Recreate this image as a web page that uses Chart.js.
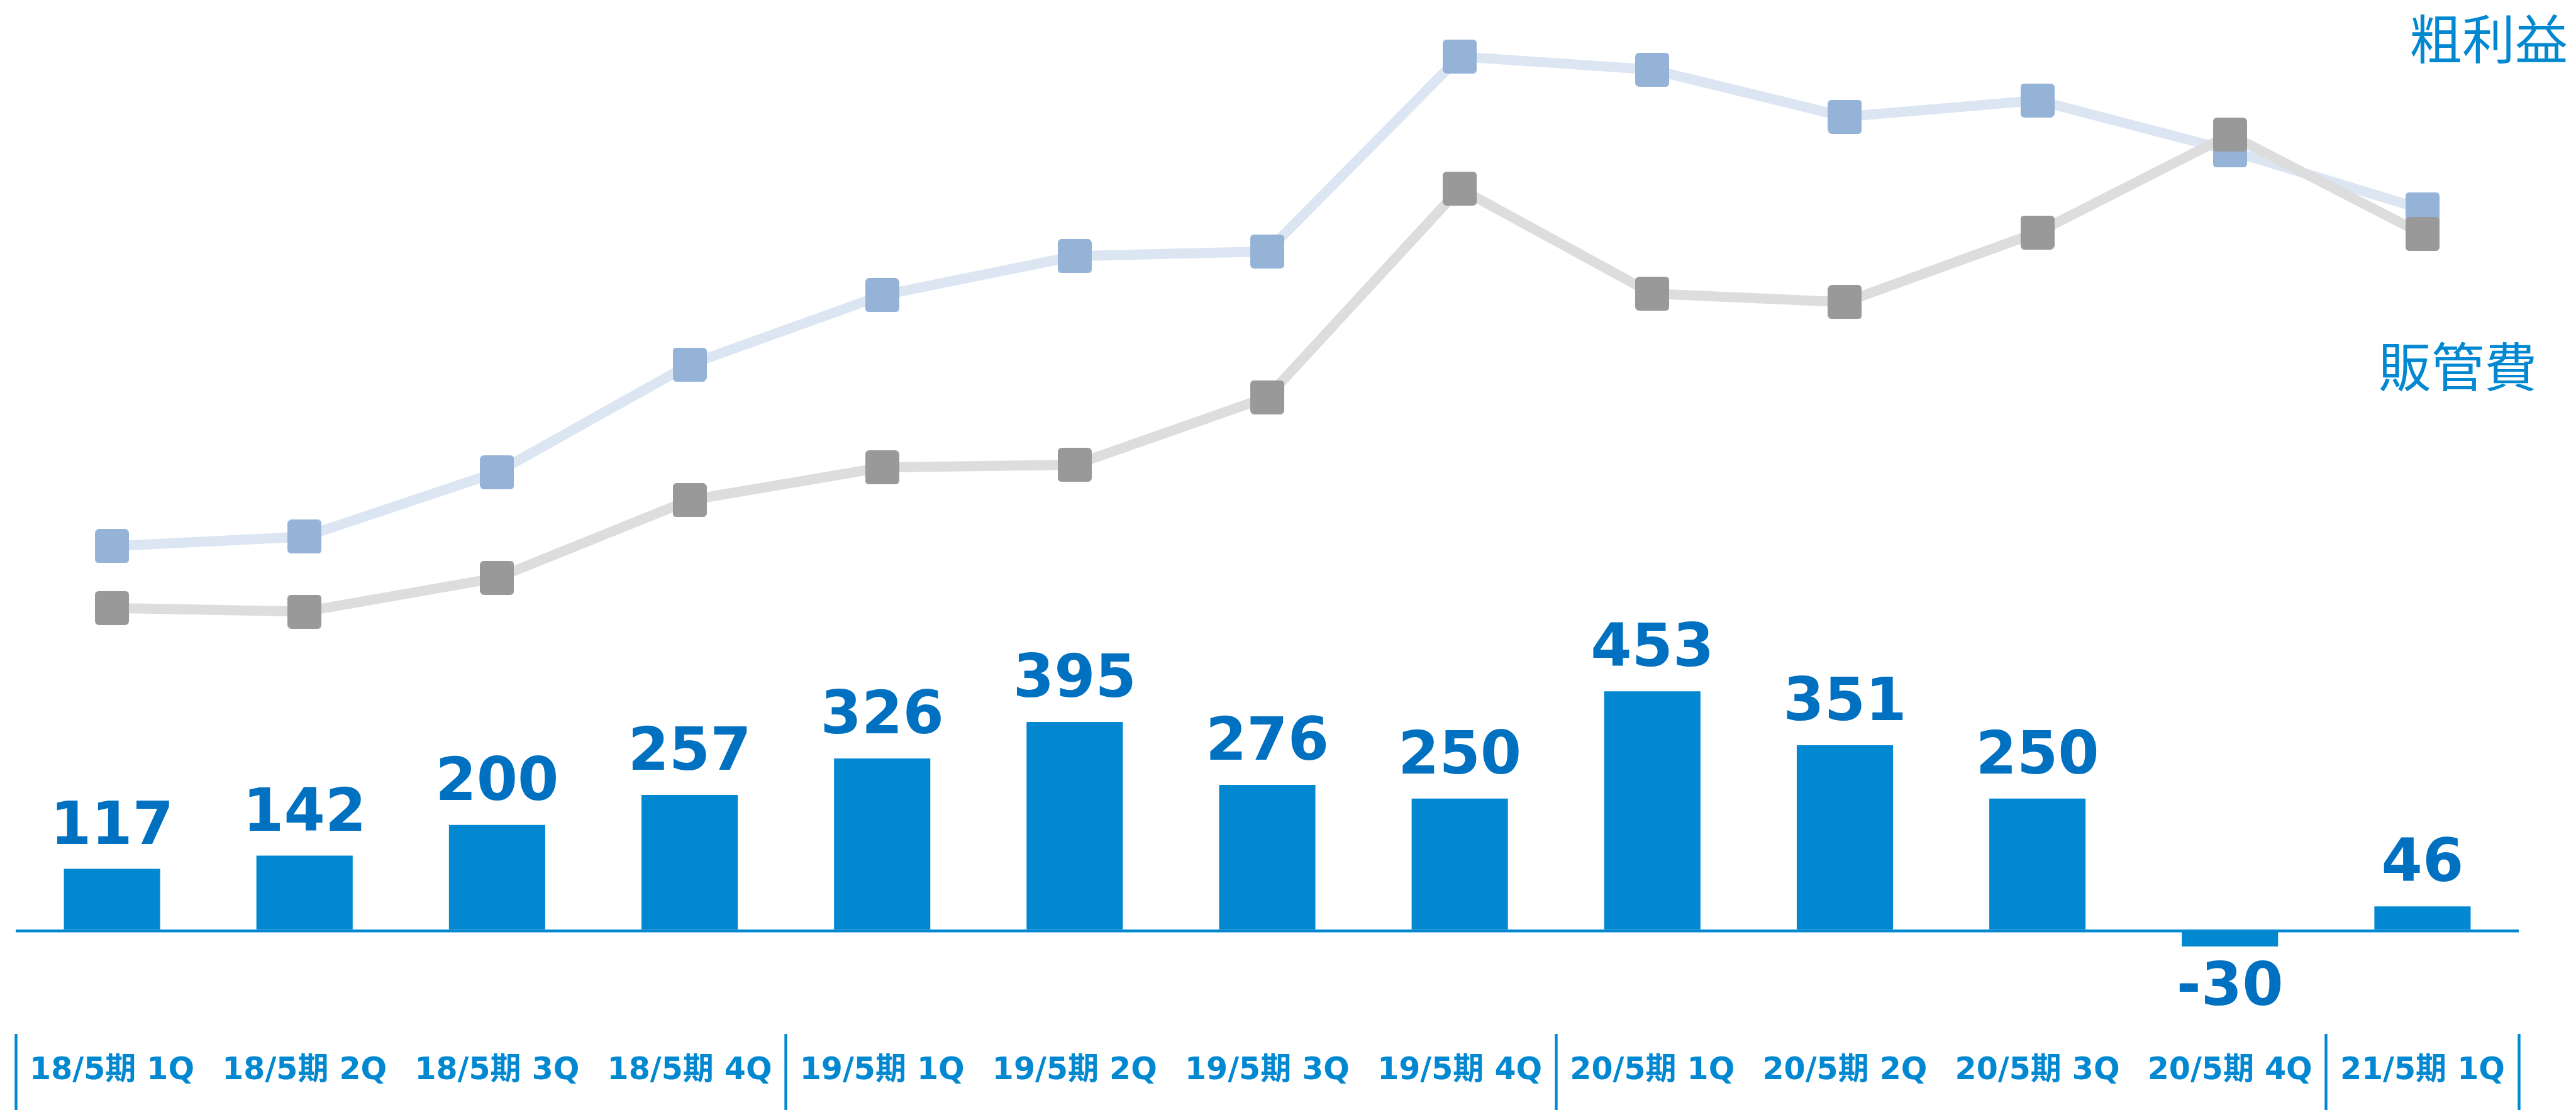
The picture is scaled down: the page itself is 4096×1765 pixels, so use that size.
<!DOCTYPE html>
<html lang="ja">
<head>
<meta charset="utf-8">
<title>営業利益・粗利益・販管費</title>
<script src="https://cdn.jsdelivr.net/npm/chart.js@4.4.0/dist/chart.umd.min.js"></script>
<style>
  html, body { margin: 0; padding: 0; background: #ffffff; }
  #wrap { position: relative; width: 4096px; height: 1765px; }
</style>
</head>
<body>
<div id="wrap"><canvas id="graphe"></canvas></div>
<script>
// les données
const quarters = ['18/5期 1Q', '18/5期 2Q', '18/5期 3Q', '18/5期 4Q',
                  '19/5期 1Q', '19/5期 2Q', '19/5期 3Q', '19/5期 4Q',
                  '20/5期 1Q', '20/5期 2Q', '20/5期 3Q', '20/5期 4Q',
                  '21/5期 1Q']
const grossProfit = [728, 746, 868, 1072, 1203, 1277, 1286, 1655, 1630, 1541, 1572, 1477, 1366]
const sgaExpense = [611, 604, 668, 815, 877, 882, 1010, 1405, 1206, 1190, 1322, 1507, 1319]
const operatingProfit = [117, 142, 200, 257, 326, 395, 276, 250, 453, 351, 250, -30, 46]
const groupStarts = [0, 4, 8, 12]

const BLUE = '#0288D1'
const LABEL_BLUE = '#0070C0'

// marqueur carré aux coins arrondis
function squareMarker(color){
    const c = document.createElement('canvas')
    c.width = 54
    c.height = 54
    const g = c.getContext('2d')
    g.fillStyle = color
    g.beginPath()
    g.roundRect(0, 0, 54, 54, 6)
    g.fill()
    return c
}

// valeurs au-dessus / en dessous des barres
const valueLabels = {
    id: 'valueLabels',
    afterDatasetsDraw(chart){
        const meta = chart.getDatasetMeta(2)
        const ctx = chart.ctx
        ctx.save()
        ctx.font = 'bold 94px "DejaVu Sans", "Noto Sans CJK JP"'
        ctx.fillStyle = LABEL_BLUE
        ctx.textAlign = 'center'
        ctx.textBaseline = 'alphabetic'
        meta.data.forEach((bar, i) => {
            const v = operatingProfit[i]
            const y = v >= 0 ? bar.y - 40 : bar.y + 93
            ctx.fillText(String(v), bar.x, y)
        })
        ctx.restore()
    }
}

// noms des séries à droite
const seriesNames = {
    id: 'seriesNames',
    afterDraw(chart){
        const ctx = chart.ctx
        ctx.save()
        ctx.font = '84px "Noto Sans CJK JP"'
        ctx.fillStyle = BLUE
        ctx.textAlign = 'center'
        ctx.textBaseline = 'middle'
        ctx.fillText('粗利益', 3957, 62)
        ctx.fillText('販管費', 3908, 583)
        ctx.restore()
    }
}

const graphe = document.querySelector('#graphe')
if(graphe){
    new Chart(graphe, {
        type: 'bar',
        data: {
            labels: quarters,
            datasets: [{
                type: 'line',
                label: '販管費',
                data: sgaExpense,
                borderColor: '#DDDDDD',
                borderWidth: 16,
                tension: 0,
                pointStyle: squareMarker('#999999'),
                pointRadius: 27,
                order: 0
            }, {
                type: 'line',
                label: '粗利益',
                data: grossProfit,
                borderColor: '#DCE6F2',
                borderWidth: 16,
                tension: 0,
                pointStyle: squareMarker('#95B3D7'),
                pointRadius: 27,
                order: 1
            }, {
                label: '営業利益',
                data: operatingProfit,
                backgroundColor: BLUE,
                categoryPercentage: 1,
                barPercentage: 0.5,
                order: 2
            }]
        },
        options: {
            responsive: true,
            maintainAspectRatio: false,
            animation: false,
            devicePixelRatio: 1,
            layout: { autoPadding: false, padding: { left: 25, right: 91, top: 0, bottom: 0 } },
            plugins: {
                legend: { display: false },
                tooltip: { enabled: false }
            },
            scales: {
                x: {
                    offset: true,
                    afterFit: (scale) => { scale.height = 121.4 },
                    border: { display: false },
                    grid: {
                        offset: true,
                        drawOnChartArea: false,
                        drawTicks: true,
                        tickLength: 121.4,
                        tickWidth: 4.4,
                        tickColor: (c) => (c.index === undefined || groupStarts.includes(c.index)) ? BLUE : 'rgba(0,0,0,0)'
                    },
                    ticks: {
                        autoSkip: false,
                        maxRotation: 0,
                        minRotation: 0,
                        padding: -91.4,
                        color: BLUE,
                        font: { family: '"DejaVu Sans", "Noto Sans CJK JP"', size: 49, weight: 'bold', lineHeight: 1.2 }
                    }
                },
                y: {
                    min: -195,
                    max: 1762,
                    border: { display: false },
                    grid: {
                        drawTicks: false,
                        lineWidth: 4.4,
                        color: (c) => (c.tick && c.tick.value === 0) ? BLUE : 'rgba(0,0,0,0)'
                    },
                    ticks: { display: false, stepSize: 100 }
                }
            }
        },
        plugins: [valueLabels, seriesNames]
    })
}
</script>
</body>
</html>
